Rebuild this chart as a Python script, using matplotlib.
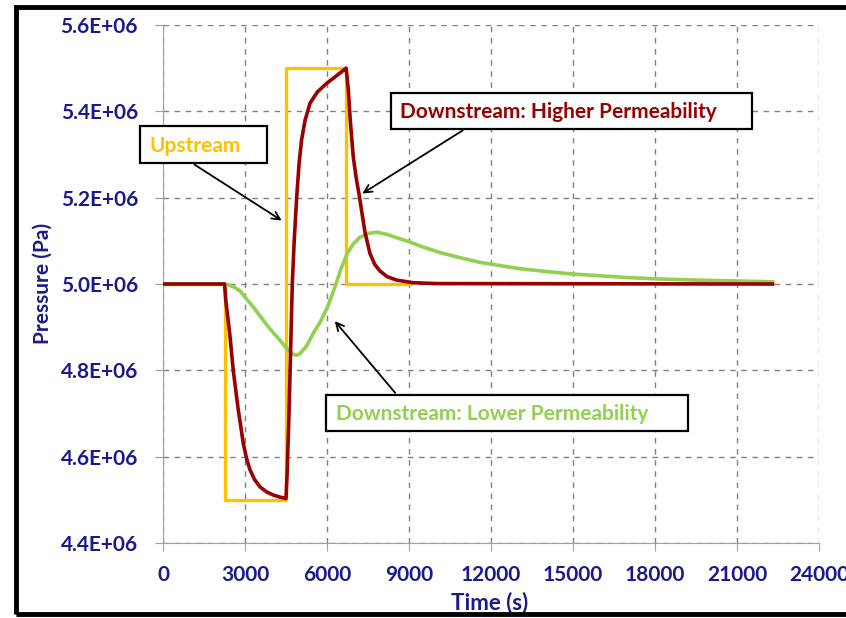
import matplotlib
matplotlib.use("Agg")
import matplotlib.pyplot as plt
from matplotlib.patches import Rectangle
from matplotlib.ticker import FuncFormatter, MultipleLocator

plt.rcParams["font.family"] = ["Lato", "DejaVu Sans"]
plt.rcParams["font.weight"] = "bold"

# --- data (time in s, pressure in Pa) ---
upstream_t = [0, 2250, 2250, 4500, 4500, 6700, 6700, 9000]
upstream_p = [5.0e6, 5.0e6, 4.5e6, 4.5e6, 5.5e6, 5.5e6, 5.0e6, 5.0e6]

high_t = [0, 2250, 2300, 2450, 2570, 2750, 2940, 3060, 3180, 3350, 3550, 3800,
          4040, 4300, 4500, 4540, 4600, 4650, 4730, 4800, 4890, 4980, 5070, 5200,
          5380, 5650, 5990, 6300, 6600, 6700, 6780, 6850, 6960, 7070, 7180, 7290,
          7390, 7570, 7750, 7940, 8200, 8550, 9150, 10000, 22300]
high_p = [5.0, 5.0, 4.96, 4.88, 4.80, 4.71, 4.63, 4.595, 4.57, 4.547, 4.53, 4.518,
          4.511, 4.506, 4.503, 4.56, 4.68, 4.80, 5.0, 5.10, 5.2, 5.28, 5.334, 5.38,
          5.419, 5.445, 5.465, 5.48, 5.495, 5.50, 5.45, 5.38, 5.295, 5.245, 5.205, 5.16,
          5.12, 5.071, 5.045, 5.03, 5.017, 5.009, 5.003, 5.001, 5.0]
high_p = [v * 1e6 for v in high_p]

low_t = [0, 2250, 2400, 2600, 2820, 3050, 3300, 3550, 3800, 4050, 4280, 4500,
         4650, 4800, 4890, 5000, 5100, 5260, 5500, 5750, 6000, 6170, 6330, 6500,
         6720, 6950, 7200, 7500, 7820, 8200, 8600, 9000, 9500, 10130, 10800, 11600,
         12000, 13000, 14000, 15000, 16000, 17000, 18000, 19500, 21000, 22300]
low_p = [5.0, 5.0, 4.998, 4.993, 4.984, 4.966, 4.947, 4.926, 4.905, 4.886, 4.870, 4.852,
         4.843, 4.836, 4.835, 4.838, 4.845, 4.857, 4.886, 4.912, 4.944, 4.972, 5.0, 5.033,
         5.068, 5.092, 5.108, 5.117, 5.12, 5.115, 5.106, 5.098, 5.086, 5.073, 5.062, 5.05,
         5.046, 5.036, 5.029, 5.023, 5.019, 5.015, 5.012, 5.009, 5.007, 5.005]
low_p = [v * 1e6 for v in low_p]

navy = "#1a1a8c"
yellow = "#FFC000"
dark_red = "#990000"
green = "#92D050"

W, H = 846, 618


def px(x, y):
    # pixel position (from top-left) -> figure fraction
    return x / W, 1 - y / H


fig = plt.figure(figsize=(W / 100, H / 100), dpi=100)
ax = fig.add_axes([163 / W, 1 - 543 / H, (819 - 163) / W, (543 - 25) / H])

ax.plot(upstream_t, upstream_p, color=yellow, lw=2.4, zorder=3)
ax.plot(low_t, low_p, color=green, lw=2.6, zorder=4)
ax.plot(high_t, high_p, color=dark_red, lw=2.6, zorder=5)

ax.set_xlim(0, 24000)
ax.set_ylim(4.4e6, 5.6e6)
ax.xaxis.set_major_locator(MultipleLocator(3000))
ax.yaxis.set_major_locator(MultipleLocator(0.2e6))
ax.yaxis.set_major_formatter(FuncFormatter(lambda v, p: f"{v:.1E}"))
ax.grid(True, color="#808080", ls=(0, (4, 4)), lw=1)

for s in ["top", "right"]:
    ax.spines[s].set_visible(False)
for s in ["left", "bottom"]:
    ax.spines[s].set_color("#a0a0a0")
ax.tick_params(colors="#a0a0a0", length=6, labelcolor=navy, labelsize=15)
ax.tick_params(axis="y", pad=12)
ax.tick_params(axis="x", pad=10)
for lab in ax.get_xticklabels() + ax.get_yticklabels():
    lab.set_fontweight("bold")

ax.set_xlabel("Time (s)", color=navy, fontsize=16, fontweight="bold", va="center")
ax.set_ylabel("Pressure (Pa)", color=navy, fontsize=15, fontweight="bold", va="center")
ax.xaxis.set_label_coords((490 - 163) / 656, -(603 - 543) / 518)
ax.yaxis.set_label_coords((43 - 163) / 656, (543 - 283) / 518)

arrow = dict(arrowstyle="->", color="black", lw=1.3, mutation_scale=14)


def label_box(x0, y0, x1, y1, text, color, tx):
    fig.add_artist(Rectangle(px(x0, y1), (x1 - x0) / W, (y1 - y0) / H,
                             transform=fig.transFigure, fc="white", ec="black",
                             lw=1.6, zorder=10))
    fig.text(*px(tx, (y0 + y1) / 2 + 1), text, color=color, fontsize=15,
             fontweight="bold", ha="left", va="center", zorder=11)


# labels with arrows
ax.annotate("", xy=px(284, 222), xytext=px(192, 163), xycoords="figure fraction",
            textcoords="figure fraction", arrowprops=arrow, zorder=6)
label_box(140, 126, 267, 163, "Upstream", yellow, 149)

ax.annotate("", xy=px(360, 195), xytext=px(465, 129), xycoords="figure fraction",
            textcoords="figure fraction", arrowprops=arrow, zorder=6)
label_box(391, 93, 752, 129, "Downstream: Higher Permeability", dark_red, 400)

ax.annotate("", xy=px(333, 319), xytext=px(397, 395), xycoords="figure fraction",
            textcoords="figure fraction", arrowprops=arrow, zorder=6)
label_box(326, 395, 688, 431, "Downstream: Lower Permeability", green, 336)

# outer frame of the picture
fig.add_artist(Rectangle((16 / W, 4 / H), 0.99, 1 - 11 / H, transform=fig.transFigure,
                         fill=False, ec="black", lw=3.5))

fig.savefig("out.png", dpi=100)
